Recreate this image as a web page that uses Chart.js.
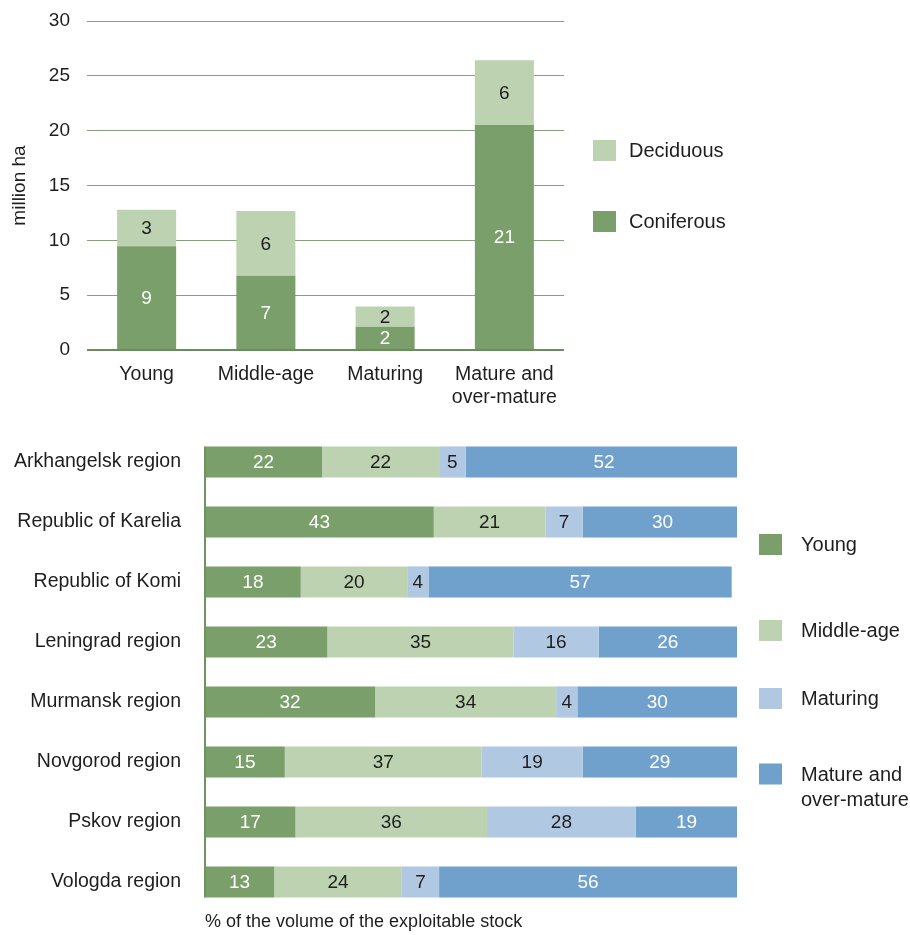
<!DOCTYPE html>
<html>
<head>
<meta charset="utf-8">
<script src="https://cdn.jsdelivr.net/npm/chart.js@4.4.1/dist/chart.umd.min.js"></script>
<style>
  html, body { margin: 0; padding: 0; background: #fff; }
  #wrap { position: relative; width: 910px; height: 935px; overflow: hidden; }
  #areaBox { position: absolute; left: 0; top: 0; width: 910px; height: 410px; }
  #stockBox { position: absolute; left: 0; top: 415px; width: 910px; height: 520px; }
</style>
</head>
<body>
<div id="wrap">
  <div id="areaBox"><canvas id="areaChart"></canvas></div>
  <div id="stockBox"><canvas id="stockChart"></canvas></div>
</div>
<script>
// forest area by age group, million ha
const ageGroups = ['Young', 'Middle-age', 'Maturing', ['Mature and', 'over-mature']];
const coniferous = [9.45, 6.76, 2.11, 20.51];
const deciduous = [3.35, 5.92, 1.85, 5.92];

// share of the exploitable stock by age group, %
const regions = ['Arkhangelsk region', 'Republic of Karelia', 'Republic of Komi', 'Leningrad region',
  'Murmansk region', 'Novgorod region', 'Pskov region', 'Vologda region'];
const young = [22, 43, 18, 23, 32, 15, 17, 13];
const middleAge = [22, 21, 20, 35, 34, 37, 36, 24];
const maturing = [5, 7, 4, 16, 4, 19, 28, 7];
const matureOver = [52, 30, 57, 26, 30, 29, 19, 56];

const DARK_GREEN = '#7a9f6a';
const LIGHT_GREEN = '#bcd2b0';
const LIGHT_BLUE = '#b1c8e3';
const BLUE = '#70a0cc';
const TEXT = '#1e1e1e';
const FONT = "'Liberation Sans', Arial, Helvetica, sans-serif";

Chart.defaults.font.family = FONT;
Chart.defaults.font.size = 19;
Chart.defaults.color = TEXT;
Chart.defaults.animation = false;

// numbers written in the middle of each bar segment
const segmentLabels = {
  id: 'segmentLabels',
  afterDatasetsDraw(chart) {
    const ctx = chart.ctx;
    ctx.save();
    ctx.font = '19px ' + FONT;
    ctx.textAlign = 'center';
    ctx.textBaseline = 'middle';
    chart.data.datasets.forEach((ds, i) => {
      chart.getDatasetMeta(i).data.forEach((bar, j) => {
        const p = bar.getCenterPoint();
        ctx.fillStyle = ds.labelColor;
        ctx.fillText(String(Math.round(ds.data[j])), p.x, p.y + 1);
      });
    });
    ctx.restore();
  }
};

// legend boxes placed beside the plot
const sideLegend = {
  id: 'sideLegend',
  afterDraw(chart, args, opts) {
    const ctx = chart.ctx;
    ctx.save();
    ctx.font = '20px ' + FONT;
    ctx.textBaseline = 'middle';
    ctx.textAlign = 'left';
    opts.items.forEach(item => {
      const ds = chart.data.datasets[item.index];
      ctx.fillStyle = ds.backgroundColor;
      ctx.fillRect(opts.x, item.y - opts.boxH / 2, opts.boxW, opts.boxH);
      ctx.fillStyle = TEXT;
      ds.label.split('\n').forEach((line, k) => {
        ctx.fillText(line, opts.textX, item.y + 1 + k * opts.lineGap);
      });
    });
    ctx.restore();
  }
};

// vertical axis line that only runs along the bars
const barAxisLine = {
  id: 'barAxisLine',
  afterDatasetsDraw(chart, args, opts) {
    const bars = chart.getDatasetMeta(0).data;
    const first = bars[0].getProps(['y', 'height'], true);
    const last = bars[bars.length - 1].getProps(['y', 'height'], true);
    const ctx = chart.ctx;
    ctx.save();
    ctx.strokeStyle = opts.color;
    ctx.lineWidth = opts.width;
    ctx.beginPath();
    ctx.moveTo(chart.chartArea.left, first.y - first.height / 2);
    ctx.lineTo(chart.chartArea.left, last.y + last.height / 2);
    ctx.stroke();
    ctx.restore();
  }
};

// fixed axis width, and no extra room reserved for the end labels
const fixedWidth = w => scale => {
  scale.width = w;
  scale.paddingTop = 0;
  scale.paddingBottom = 0;
};

new Chart(document.getElementById('areaChart'), {
  type: 'bar',
  data: {
    labels: ageGroups,
    datasets: [
      { label: 'Coniferous', data: coniferous, backgroundColor: DARK_GREEN, labelColor: '#ffffff' },
      { label: 'Deciduous', data: deciduous, backgroundColor: LIGHT_GREEN, labelColor: TEXT }
    ]
  },
  options: {
    responsive: true,
    maintainAspectRatio: false,
    layout: { padding: { top: 21, right: 346, left: 0, bottom: 0 } },
    datasets: { bar: { barPercentage: 0.495, categoryPercentage: 1 } },
    scales: {
      x: {
        stacked: true,
        grid: { display: false, drawTicks: false },
        border: { display: false },
        ticks: { padding: 13, maxRotation: 0, autoSkip: false, font: { size: 19.5 } },
        afterFit(scale) { scale.height = 60; }
      },
      y: {
        stacked: true,
        min: 0,
        max: 30,
        ticks: { stepSize: 5, padding: 17 },
        grid: {
          drawTicks: false,
          color: c => c.tick.value === 0 ? '#6b8c5f' : '#86a07c',
          lineWidth: c => c.tick.value === 0 ? 2 : 1
        },
        border: { display: false },
        title: { display: true, text: 'million ha', padding: { top: 8, bottom: 0 } },
        afterFit: fixedWidth(87)
      }
    },
    plugins: {
      legend: { display: false },
      tooltip: { enabled: false },
      sideLegend: {
        x: 593, boxW: 23, boxH: 21, textX: 629, lineGap: 25,
        items: [{ index: 1, y: 150.5 }, { index: 0, y: 221.5 }]
      }
    }
  },
  plugins: [segmentLabels, sideLegend]
});

new Chart(document.getElementById('stockChart'), {
  type: 'bar',
  data: {
    labels: regions,
    datasets: [
      { label: 'Young', data: young, backgroundColor: DARK_GREEN, labelColor: '#ffffff' },
      { label: 'Middle-age', data: middleAge, backgroundColor: LIGHT_GREEN, labelColor: TEXT },
      { label: 'Maturing', data: maturing, backgroundColor: LIGHT_BLUE, labelColor: TEXT },
      { label: 'Mature and\nover-mature', data: matureOver, backgroundColor: BLUE, labelColor: '#ffffff' }
    ]
  },
  options: {
    indexAxis: 'y',
    responsive: true,
    maintainAspectRatio: false,
    layout: { padding: { top: 17, right: 173, left: 0, bottom: 0 } },
    datasets: { bar: { barPercentage: 0.52, categoryPercentage: 1 } },
    scales: {
      x: {
        stacked: true,
        min: 0,
        max: 100,
        ticks: { display: false },
        grid: { display: false, drawTicks: false },
        border: { display: false },
        title: {
          display: true,
          text: '% of the volume of the exploitable stock',
          align: 'start',
          font: { size: 18 },
          padding: { top: 0, bottom: 2 }
        },
        afterFit(scale) { scale.height = 23; }
      },
      y: {
        stacked: true,
        grid: { display: false, drawTicks: false },
        border: { display: false },
        ticks: { padding: 24, font: { size: 19.5 } },
        afterFit: fixedWidth(205)
      }
    },
    plugins: {
      legend: { display: false },
      tooltip: { enabled: false },
      barAxisLine: { color: '#6e935f', width: 2 },
      sideLegend: {
        x: 759, boxW: 23, boxH: 21, textX: 801, lineGap: 25,
        items: [{ index: 0, y: 129.5 }, { index: 1, y: 215.5 }, { index: 2, y: 283.5 }, { index: 3, y: 359 }]
      }
    }
  },
  plugins: [segmentLabels, sideLegend, barAxisLine]
});
</script>
</body>
</html>
